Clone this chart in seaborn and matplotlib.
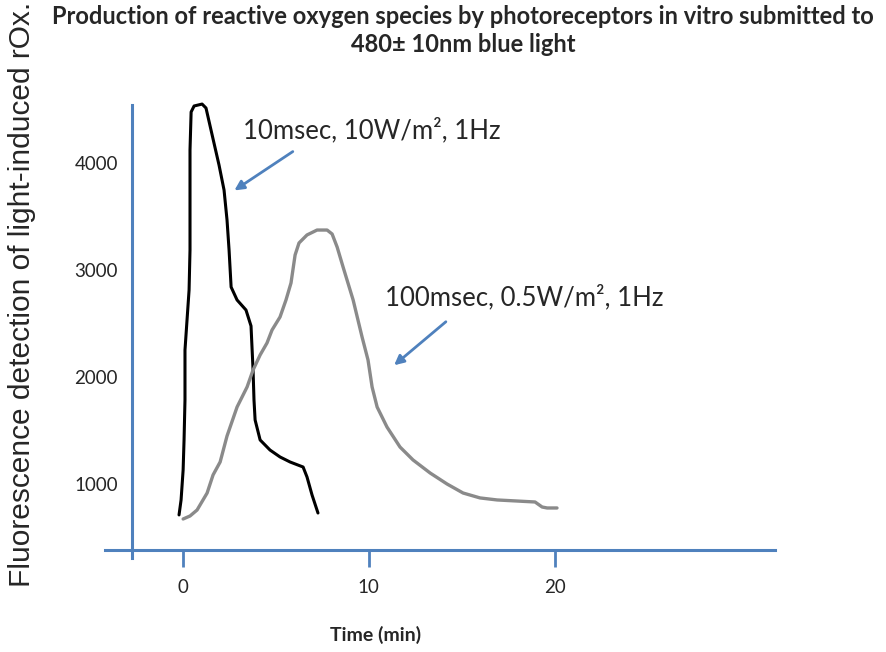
import numpy as np
import pandas as pd
import seaborn as sns
import matplotlib.pyplot as plt

# -------------------------------
#  Datos
# -------------------------------
# curva negra: 10msec, 10W/m2, 1Hz
t_10ms = [-0.19, -0.08, 0.03, 0.08, 0.13, 0.13, 0.24, 0.35, 0.40, 0.40, 0.40, 0.46,
          0.62, 1.05, 1.26, 1.59, 1.96, 2.23, 2.39, 2.50, 2.61, 2.93, 3.41, 3.68,
          3.79, 3.84, 3.90, 4.17, 4.70, 5.24, 5.78, 6.48, 6.69, 6.96, 7.28]
rox_10ms = [711, 851, 1131, 1412, 1786, 2253, 2534, 2814, 3188, 3656, 4123, 4479,
            4535, 4553, 4516, 4264, 3983, 3749, 3469, 3188, 2842, 2721, 2627, 2478,
            2066, 1786, 1599, 1412, 1318, 1253, 1206, 1159, 1066, 898, 729]

# curva gris: 100msec, 0.5W/m2, 1Hz
t_100ms = [0.03, 0.40, 0.78, 1.32, 1.64, 2.02, 2.39, 2.93, 3.47, 3.79, 4.17, 4.54,
           4.81, 5.24, 5.56, 5.83, 6.05, 6.26, 6.69, 7.23, 7.77, 8.04, 8.31, 8.63,
           9.17, 9.65, 9.97, 10.19, 10.46, 10.99, 11.69, 12.39, 13.31, 14.22, 15.08,
           15.99, 16.91, 17.88, 18.95, 19.33, 19.60, 20.13]
rox_100ms = [673, 701, 757, 916, 1085, 1206, 1449, 1720, 1908, 2066, 2207, 2319,
             2440, 2562, 2721, 2880, 3142, 3254, 3329, 3375, 3375, 3338, 3216, 3029,
             2721, 2375, 2160, 1907, 1720, 1533, 1346, 1225, 1103, 1000, 916,
             870, 851, 842, 832, 785, 776, 776]

x_ticks = [0, 10, 20]
y_ticks = [1000, 2000, 3000, 4000]
label_10ms = "10msec, 10W/m\u00b2, 1Hz"
label_100ms = "100msec, 0.5W/m\u00b2, 1Hz"

# -------------------------------
#  Estilo
# -------------------------------
sns.set_style("white")
plt.rcParams['font.family'] = ['Lato', 'DejaVu Sans']
axis_blue = "#4f81bd"

fig = plt.figure(figsize=(8.87, 6.52), dpi=100)
ax = fig.add_axes([105 / 887, 82 / 652, 670 / 887, 470 / 652])

sns.lineplot(x=t_10ms, y=rox_10ms, sort=False, estimator=None, color="black",
             linewidth=2.2, ax=ax)
sns.lineplot(x=t_100ms, y=rox_100ms, sort=False, estimator=None, color="#8a8a8a",
             linewidth=2.4, ax=ax)

ax.set_xlim(-4.17, 31.85)
ax.set_ylim(196, 4591)

# ejes azules cruzados
for s in ["top", "right"]:
    ax.spines[s].set_visible(False)
ax.spines["left"].set_position(("data", -2.72))
ax.spines["left"].set_bounds(309, 4544)
ax.spines["bottom"].set_position(("data", 383))
ax.spines["left"].set_color(axis_blue)
ax.spines["bottom"].set_color(axis_blue)
ax.spines["left"].set_linewidth(2.2)
ax.spines["bottom"].set_linewidth(2.2)

ax.set_xticks(x_ticks)
ax.set_yticks(y_ticks)
ax.tick_params(axis="x", bottom=True, direction="out", length=12, width=2,
               color=axis_blue, labelsize=13.5, pad=9)
ax.tick_params(axis="y", length=0, labelsize=13.5, pad=10)

ax.set_xlabel("Time (min)", fontsize=14, fontweight="bold")
ax.xaxis.set_label_coords(0.404, -0.12)
fig.text(22 / 887, 0.548, "Fluorescence detection of light-induced rOx.",
         rotation=90, ha="center", va="center", fontsize=21.5,
         family="Liberation Sans")

fig.text(463 / 887, 1 - 17 / 652,
         "Production of reactive oxygen species by photoreceptors in vitro submitted to",
         ha="center", va="center", fontsize=17, fontweight="bold")
fig.text(463 / 887, 1 - 45 / 652, "480\u00b1 10nm blue light",
         ha="center", va="center", fontsize=17, fontweight="bold")

# anotaciones con flechas
arrow = dict(arrowstyle="-|>", color=axis_blue, lw=2, mutation_scale=14)
ax.annotate("", xy=(2.66, 3731), xytext=(6.05, 4123), arrowprops=arrow)
ax.annotate("", xy=(11.26, 2094), xytext=(14.27, 2534), arrowprops=arrow)
ax.text(3.25, 4310, label_10ms, ha="left", va="center", fontsize=18.5)
ax.text(10.89, 2740, label_100ms, ha="left", va="center", fontsize=18.5)

fig.savefig("out.png", dpi=100)
